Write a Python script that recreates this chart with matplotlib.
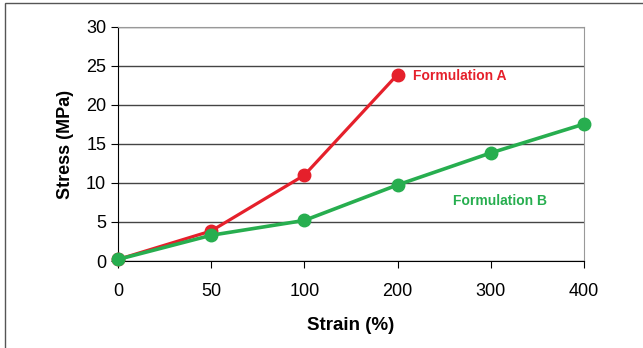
import matplotlib.pyplot as plt
from matplotlib.patches import Rectangle

plt.rcParams['font.family'] = ['Liberation Sans', 'DejaVu Sans']

strain_labels = ['0', '50', '100', '200', '300', '400']
stress_a = [0.2, 3.85, 11.0, 23.9]
stress_b = [0.2, 3.3, 5.2, 9.75, 13.85, 17.55]

red = '#e5202b'
green = '#27ae4f'

fig = plt.figure(figsize=(6.43, 3.48), dpi=100)
ax = fig.add_axes([0.1835, 0.25, 0.7245, 0.6725])

ax.plot(range(len(stress_a)), stress_a, color=red, lw=2.3, marker='o', ms=9, zorder=3, clip_on=False)
ax.plot(range(len(stress_b)), stress_b, color=green, lw=2.6, marker='o', ms=9, zorder=4, clip_on=False)

ax.set_xlim(0, len(strain_labels) - 1)
ax.set_ylim(0, 30)
ax.set_xticks(range(len(strain_labels)))
ax.set_xticklabels(strain_labels)
ax.set_yticks(range(0, 31, 5))
ax.tick_params(labelsize=13, direction='out', length=5, color='black')
ax.tick_params(axis='x', pad=11)
ax.yaxis.grid(True, color='#444444', lw=1)
ax.set_axisbelow(True)

for s in ['top', 'right']:
    ax.spines[s].set_color('#999999')
ax.spines['left'].set_color('black')
ax.spines['bottom'].set_color('black')

ax.set_xlabel('Strain (%)', fontsize=13.5, fontweight='bold', labelpad=12)
ax.set_ylabel('Stress (MPa)', fontsize=13, fontweight='bold', labelpad=9)

ax.text(3.17, 23.7, 'Formulation A', color=red, fontsize=10, fontweight='bold', va='center')
ax.text(3.6, 7.7, 'Formulation B', color=green, fontsize=10, fontweight='bold', va='center')

# outer frame (bottom edge falls outside the image)
fig.patches.append(Rectangle((5 / 643, -0.1), 1.2, 1.1 - 3 / 348, transform=fig.transFigure,
                             fill=False, edgecolor='#555555', lw=1))

fig.savefig('out.png', dpi=100)
